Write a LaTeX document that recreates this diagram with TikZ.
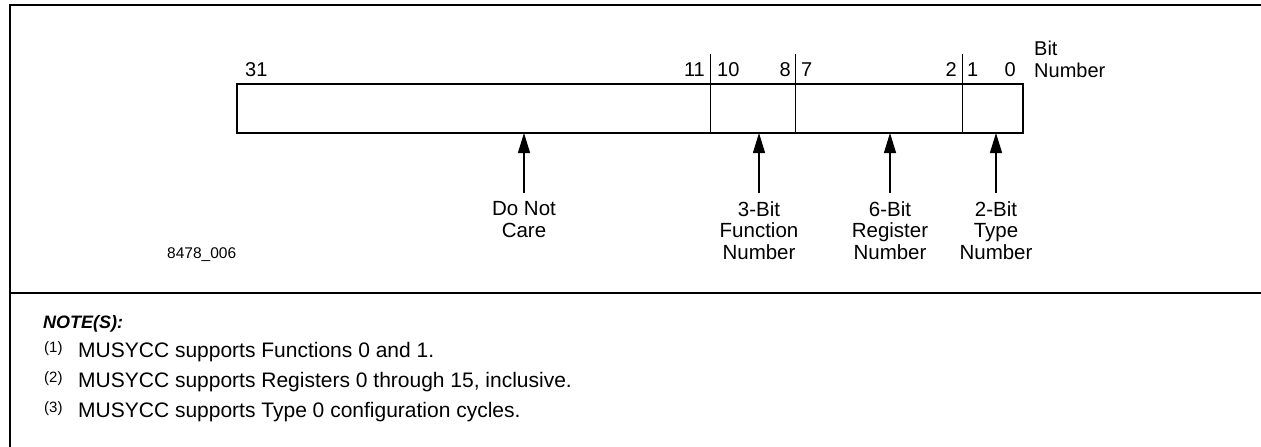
\documentclass[tikz,border=0pt]{standalone}
\usepackage{fontspec}
\setmainfont{Liberation Sans}
\usetikzlibrary{arrows.meta}
\begin{document}
\begin{tikzpicture}[x=1pt,y=-1pt,
  frame/.style={line width=2.5pt},
  fieldbox/.style={draw, line width=2.5pt, inner sep=0pt, outer sep=0pt},
  sepline/.style={line width=1pt},
  bitnum/.style={font=\fontsize{20}{22}\selectfont, inner sep=0pt},
  lbl/.style={font=\fontsize{20.5}{21.7}\selectfont, align=center, inner sep=0pt},
  arr/.style={line width=1.3pt, -{Triangle[length=20pt,width=12pt]}},
  notetxt/.style={font=\fontsize{21}{25}\selectfont, anchor=base west, inner sep=0pt},
  supnum/.style={font=\fontsize{15}{17}\selectfont, anchor=base west, inner sep=0pt}]
\useasboundingbox (0,0) rectangle (1261,447);
% frame
\draw[frame] (10,5) -- (1261,5);
\draw[line width=1.3pt] (10,4) -- (10,447);
\draw[frame] (10,293) -- (1261,293);
% register box
\node[fieldbox, minimum width=786pt, minimum height=49pt, anchor=north west] (box) at (237,84) {};
\coordinate (s1) at (710,54);
\coordinate (s2) at (795,54);
\coordinate (s3) at (962,54);
\draw[sepline] (s1) -- (s1 |- box.south);
\draw[sepline] (s2) -- (s2 |- box.south);
\draw[sepline] (s3) -- (s3 |- box.south);
% bit numbers
\node[bitnum, anchor=base west] (b31) at (245,76) {31};
\node[bitnum, anchor=base east] (b11) at (705,76) {11};
\node[bitnum, anchor=base west] (b10) at (717,76) {10};
\node[bitnum, anchor=base east] (b8) at (791,76) {8};
\node[bitnum, anchor=base west] (b7) at (801,76) {7};
\node[bitnum, anchor=base east] (b2) at (957,76) {2};
\node[bitnum, anchor=base west] (b1) at (967,76) {1};
\node[bitnum, anchor=base east] (b0) at (1016,76) {0};
\node[bitnum, anchor=base west] (bit) at (1034,55) {Bit};
\node[bitnum, anchor=base west] (bitn) at (1034,77) {Number};
% labels
\node[lbl, anchor=north] (dnc) at (524,201) {Do Not\\Care};
\node[lbl, anchor=north] (fn) at (759,201) {3-Bit\\Function\\Number};
\node[lbl, anchor=north] (rg) at (890,201) {6-Bit\\Register\\Number};
\node[lbl, anchor=north] (ty) at (996,201) {2-Bit\\Type\\Number};
\draw[arr] ([yshift=8pt]dnc.north) -- (dnc.north |- box.south);
\draw[arr] ([yshift=8pt]fn.north) -- (fn.north |- box.south);
\draw[arr] ([yshift=8pt]rg.north) -- (rg.north |- box.south);
\draw[arr] ([yshift=8pt]ty.north) -- (ty.north |- box.south);
\node[font=\fontsize{15.5}{18}\selectfont, anchor=base west, inner sep=0pt] (fig) at (167,258) {8478\_006};
% notes
\node[font=\fontsize{18}{22}\selectfont\bfseries\itshape, anchor=base west, inner sep=0pt] (notes) at (43,328) {NOTE(S):};
\node[supnum] (n1) at (44,352) {(1)};
\node[notetxt] (t1) at (78,357) {MUSYCC supports Functions 0 and 1.};
\node[supnum] (n2) at (44,382) {(2)};
\node[notetxt] (t2) at (78,387) {MUSYCC supports Registers 0 through 15, inclusive.};
\node[supnum] (n3) at (44,412) {(3)};
\node[notetxt] (t3) at (78,417) {MUSYCC supports Type 0 configuration cycles.};
\end{tikzpicture}
\end{document}
